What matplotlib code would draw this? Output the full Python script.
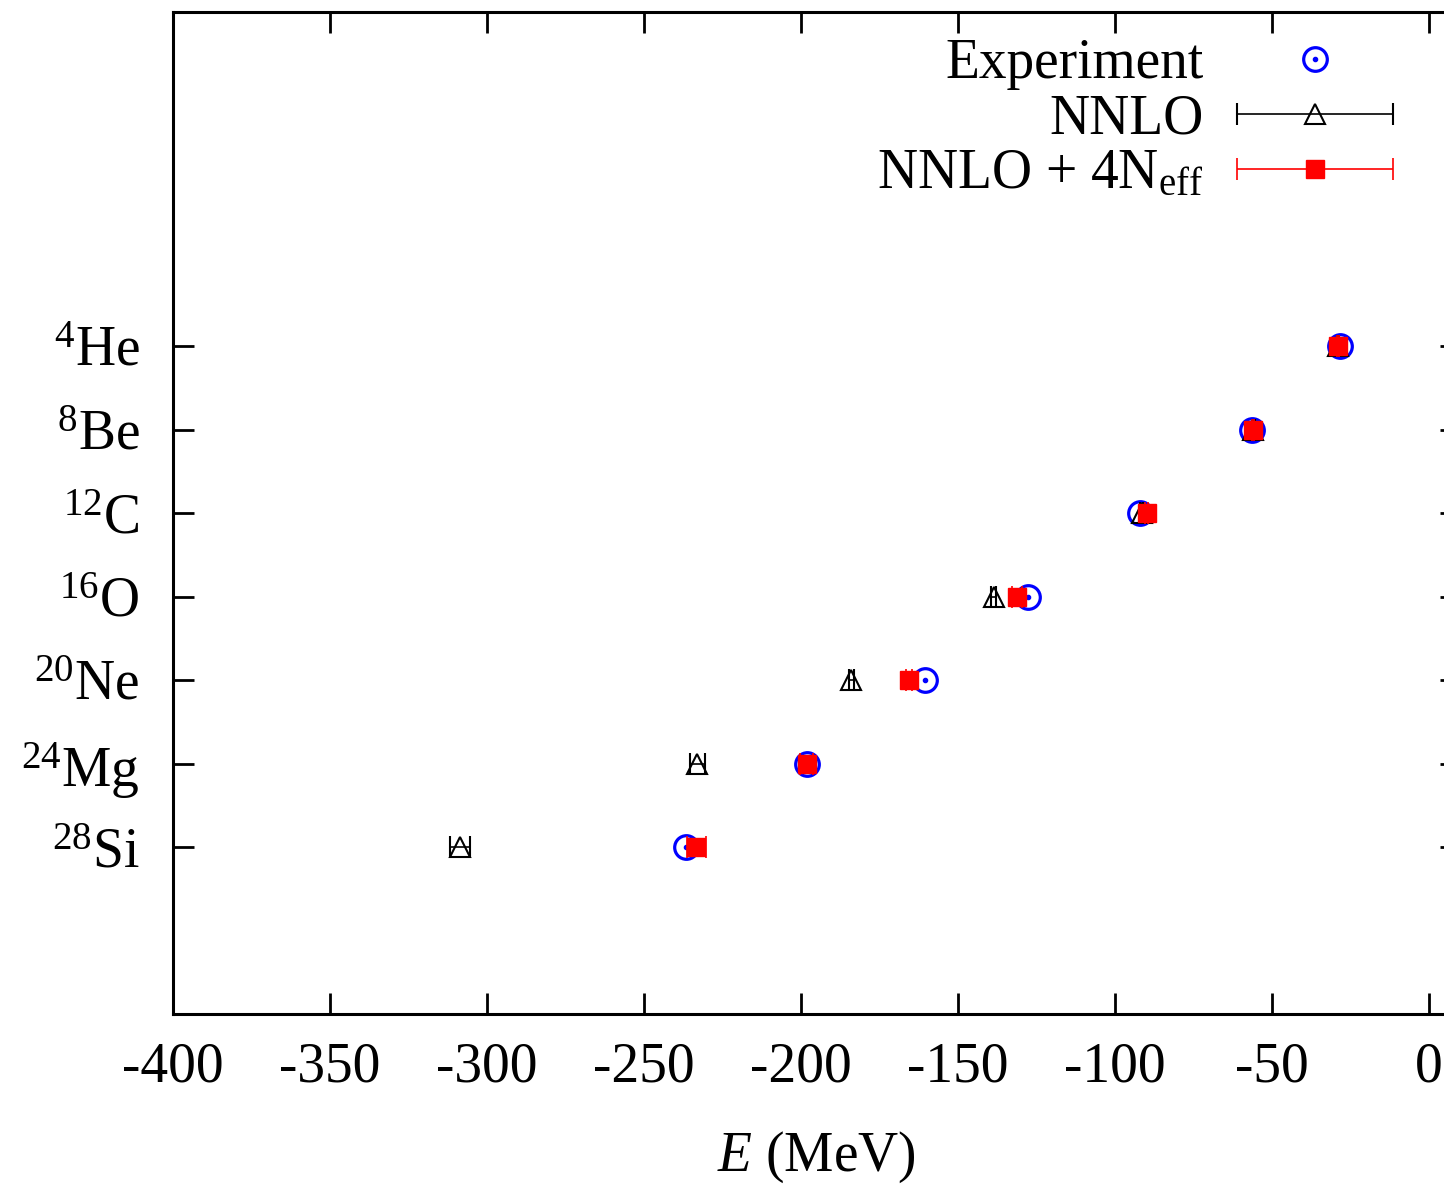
import numpy as np
import matplotlib
matplotlib.use('Agg')
import matplotlib.pyplot as plt
from matplotlib.legend_handler import HandlerErrorbar, HandlerTuple
from matplotlib.container import ErrorbarContainer

plt.rcParams['font.family'] = 'Liberation Serif'
plt.rcParams['mathtext.fontset'] = 'custom'
plt.rcParams['mathtext.rm'] = 'Liberation Serif'
plt.rcParams['mathtext.it'] = 'Liberation Serif:italic'
plt.rcParams['axes.unicode_minus'] = False

# nuclei from top to bottom
nuclei = [r'$^{4}$He', r'$^{8}$Be', r'$^{12}$C', r'$^{16}$O', r'$^{20}$Ne', r'$^{24}$Mg', r'$^{28}$Si']
exp_E = [-28.30, -56.50, -92.16, -127.62, -160.64, -198.26, -236.54]
nnlo_E = [-29.0, -56.0, -91.5, -138.6, -184.0, -233.0, -308.5]
nnlo_err = [0.3, 0.4, 0.5, 0.8, 0.9, 2.4, 3.2]
nnlo4_E = [-29.0, -56.1, -90.0, -131.2, -165.7, -198.2, -233.4]
nnlo4_err = [0.3, 0.4, 0.6, 1.5, 1.0, 2.0, 3.0]

ypos = np.arange(len(nuclei), 0, -1)

fig = plt.figure(figsize=(14.44, 11.84), dpi=100)
ax = fig.add_axes([173/1444, 170/1184, 1287.6/1444, 1002/1184])

exp_ring, = ax.plot(exp_E, ypos, 'o', ms=17, mfc='none', mec='#0000ff', mew=2.3, zorder=3)
exp_dot, = ax.plot(exp_E, ypos, 'o', ms=3, mfc='#0000ff', mec='#0000ff', zorder=3)
e1 = ax.errorbar(nnlo_E, ypos, xerr=nnlo_err, fmt='^', ms=15, mfc='none', mec='black',
                 mew=1.5, ecolor='black', elinewidth=1.2, capsize=8, capthick=1.2, zorder=4)
e2 = ax.errorbar(nnlo4_E, ypos, xerr=nnlo4_err, fmt='s', ms=13, mfc='#ff0000', mec='#ff0000',
                 ecolor='#ff0000', elinewidth=1.2, capsize=8, capthick=1.2, zorder=5)

ax.set_xlim(-400, 10)
ax.set_ylim(-1, 11)
ax.set_xticks(np.arange(-400, 1, 50))
ax.set_yticks(ypos)
ax.set_yticklabels(nuclei)
ax.tick_params(direction='in', length=15, width=2, labelsize=40, top=True, right=True)
ax.tick_params(axis='x', pad=20)
ax.tick_params(axis='y', pad=24)
for s in ax.spines.values():
    s.set_linewidth(2.2)
ax.set_xlabel(r'$E$ (MeV)', fontsize=40, labelpad=26)

leg = fig.legend([(exp_ring, exp_dot), e1, e2],
                 ['Experiment', 'NNLO', r'NNLO + 4N$_{\mathrm{eff}}$'],
                 handler_map={tuple: HandlerTuple(ndivide=1),
                              ErrorbarContainer: HandlerErrorbar(xerr_size=1.4)},
                 loc='upper right', bbox_to_anchor=(1393/1444, 1 - 38/1184),
                 frameon=False, fontsize=40, markerfirst=False, handlelength=2.8,
                 handletextpad=0.6, labelspacing=0.06, borderpad=0, borderaxespad=0)

fig.savefig('out.png', dpi=100)
